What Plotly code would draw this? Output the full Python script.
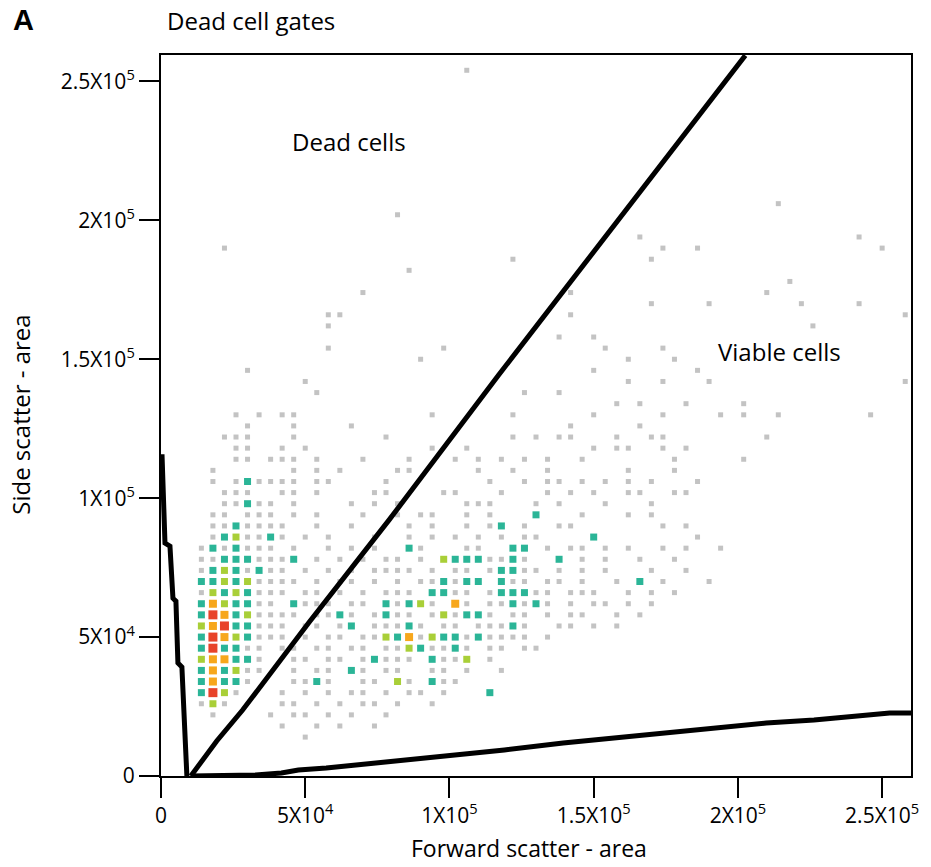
import plotly.graph_objects as go

# ---------------- data ----------------
BIN = 4000  # width of one density cell (scatter units)

# density grid: one row per 4000-unit band of side scatter,
# top row = highest band (row 64), columns = 4000-unit bands of forward scatter.
# '.' empty, g grey (low), t teal, l lime, o orange, r red (highest)
E = ".........."
E5 = "....."
GRID_ROWS = [
    E + E + E + E + E + E + E5,                                                   # 64
    E + E + "......g..." + E + E + E + E5,                                        # 63
    E + E + E + E + E + E + E5,                                                   # 62
    E + E + E + E + E + E + E5,                                                   # 61
    E + E + E + E + E + E + E5,                                                   # 60
    E + E + E + E + E + E + E5,                                                   # 59
    E + E + E + E + E + E + E5,                                                   # 58
    E + E + E + E + E + E + E5,                                                   # 57
    E + E + E + E + E + E + E5,                                                   # 56
    E + E + E + E + E + E + E5,                                                   # 55
    E + E + E + E + E + E + E5,                                                   # 54
    E + E + E + E + E + E + E5,                                                   # 53
    E + E + E + E + E + E + E5,                                                   # 52
    E + E + E + E + E + "...g......" + E5,                                        # 51
    E + E + "g........." + E + E + E + E5,                                        # 50
    E + E + E + E + E + E + E5,                                                   # 49
    E + E + E + E + ".g........" + E + "g....",                                   # 48
    ".....g...." + E + E + E + "...g..g..." + E + "..g..",                        # 47
    E + E + E + "g........." + "..g......." + E + E5,                             # 46
    E + E + ".g........" + E + E + E + E5,                                        # 45
    E + E + E + E + E + "....g....." + E5,                                        # 44
    E + ".......g.." + E + ".....g...." + E + "..g......." + E5,                  # 43
    E + E + E + E + "..g....g.." + ".....g...." + "g....",                        # 42
    E + "....gg...." + E + ".....g...." + E + E + "....g",                        # 41
    E + "....g....." + E + E + E + "......g..." + E5,                             # 40
    E + E + E + "....g..g.." + E + E + E5,                                        # 39
    E + "....g....." + "....g....." + "........g." + "...g......" + E + E5,       # 38
    E + E + "..g......." + E + "g...g....." + E + E5,                             # 37
    ".......g.." + E + E + ".......g.." + "......g..." + E + E5,                  # 36
    E + "..g......." + E + E + "g..g...g.." + E + "....g",                        # 35
    E + "...g......" + E + ".g..g....." + E + E + E5,                             # 34
    E + E + E + ".........g" + ".g...g...." + "g........." + E5,                  # 33
    "......g.g." + "gg........" + "...g......" + "g......g.." + "...g....g." + "g..g......" + ".g...",  # 32
    ".......g.." + ".g....g..." + E + ".....g...." + ".g........" + E + E5,       # 31
    ".....ggg.." + ".g.......g" + E + "g.g.gg...g" + "..gg......" + "..g......." + E5,  # 30
    "......gg.." + "g.g......." + "...g..g..." + ".......g.g" + "g..g.g...." + E + E5,  # 29
    "......gg.g" + "gg.g...g.." + ".g...g.g.g" + ".g.g..g..." + "....g....." + "g........." + E5,  # 28
    "....g....." + ".g.g.g...." + "gg.....g.." + "g..g......" + "g...g....." + E + E5,  # 27
    "....g.gtgg" + "gg.gg....g" + "........g." + ".g.gg.g.g." + "g.g...g..." + E + E5,  # 26
    ".....ggg.." + "gg.g....gg" + "....gg...g" + "...g.g.g.." + "gg..gg...." + E + E5,  # 25
    ".....ggtgg" + ".g....g.g." + "g.....ggg." + "..g.g...g." + "..g......." + E + E5,  # 24
    "....gg.ggg" + ".g.g...g.." + "g.gg..g.g." + "..t...g..." + "g.g......." + E + E5,  # 23
    "....ggtggg" + "g..g..g..." + ".g.g..g.gt" + ".g..gg...." + "...g.g...." + E + E5,  # 22
    "....gtlggt" + "g.g.g...g." + ".g.g.g.g.g" + ".gg....t.." + "......g..." + E + E5,  # 21
    "...gtgtggg" + ".g..g.g.g." + ".tg...gg.." + "tt.g.gg.g." + "g..g.g..g." + E + E5,  # 20
    "...ggtttgg" + "gt.g.g.g.g" + "g.g.ltttgg" + "tg..t.g.g." + ".g..g....." + E + E5,  # 19
    "...gtltgtg" + "g.g.g.g.gg" + "gg.g.gg.gt" + "tgg.g.g.g." + "..g..g...." + E + E5,  # 18
    "...ttltlgg" + "gg.g.gg.g." + "g.ggtgtt.t" + "gg.gg.g..g" + ".t.g...g.." + E + E5,  # 17
    "...gltltgg" + "g.gg.g.g.g" + "gg.ttgg.gt" + "ttgg.ggg.." + "g.g.g....." + E + E5,  # 16
    "...tolttgg" + ".tggg.gg.t" + "gtlg.og.gg" + "tgtg.g.gg." + "g.g......." + E + E5,  # 15
    "...trotlgg" + "gg.ggtg.gt" + "gg.glgttg." + "gg.g.gg..g" + ".g........" + E + E5,  # 14
    "...lorttgg" + "g.gg.gt.gg" + "gtg.gg.ggg" + "tg..gg.g.g" + E + E + E5,          # 13
    "...troltgg" + "g.g.gg.ggl" + "toglttgtgg" + "gg.g......" + E + E + E5,          # 12
    "...trttgg." + "gg.gg.gg.g" + "gltggtg.gg" + ".gg......." + E + E + E5,          # 11
    "...loottg." + ".gg.gg.gtg" + "gg.tggl.g." + E + E + E + E5,                     # 10
    "...totlgg." + ".g.gg.tg.g" + "g..gg.g..g" + E + E + E + E5,                     # 9
    "...tottg.." + ".ggtg..gg." + "lg.tgg...." + E + E + E + E5,                     # 8
    "...trlg..." + "g.g.g.gg.g" + ".gg.g...t." + E + E + E + E5,                     # 7
    "...glg...." + "gg.g.g.gg." + "g..g......" + E + E + E + E5,                     # 6
    "....g....g" + ".gg.g.g..g" + E + E + E + E + E5,                                # 5
    E + "g..g.g..g." + E + E + E + E + E5,                                           # 4
    E + "..g......." + E + E + E + E + E5,                                           # 3
    E + E + E + E + E + E + E5,                                                      # 2
    E + E + E + E + E + E + E5,                                                      # 1
    E + E + E + E + E + E + E5,                                                      # 0
]

LEVEL_ORDER = ["g", "t", "l", "o", "r"]

# gate polylines (forward scatter, side scatter)
GATE_LEFT_X = [345, 690, 1380, 3105, 4140, 5176, 5866, 7246, 7937, 8972]
GATE_LEFT_Y = [115800, 102900, 83800, 82700, 64000, 62950, 40650, 39200, 20140, 0]

GATE_DIAG_X = [10352, 19324, 28296, 51415, 79021, 116979, 202556]
GATE_DIAG_Y = [0, 12590, 23740, 55390, 92083, 144240, 259344]

GATE_LOW_X = [10352, 22085, 32782, 41753, 47620, 57282, 77986, 103176, 119049,
              139408, 154246, 175640, 190134, 209803, 226366, 246035, 252591, 260528]
GATE_LOW_Y = [0, 0, 360, 1080, 2158, 2878, 5036, 7554, 9352,
              11870, 13309, 15467, 16906, 19064, 20143, 21942, 22661, 22661]

TICK_VALS = [0, 50000, 100000, 150000, 200000, 250000]
TICK_TEXT = ["0", "5X10<sup>4</sup>", "1X10<sup>5</sup>", "1.5X10<sup>5</sup>",
             "2X10<sup>5</sup>", "2.5X10<sup>5</sup>"]

# ---------------- styles ----------------
COLORS = {"g": "#c3c3c3", "t": "#2bb597", "l": "#a9cf38", "o": "#f7a71c", "r": "#e8432a"}
SIZES = {"g": 5, "t": 7, "l": 7, "o": 8, "r": 9}
FONT = "Open Sans"

fig = go.Figure()

n_rows = len(GRID_ROWS)
for lvl in LEVEL_ORDER:
    xs, ys = [], []
    for i, row in enumerate(GRID_ROWS):
        r = n_rows - 1 - i
        for c, ch in enumerate(row):
            if ch == lvl:
                xs.append((c + 0.5) * BIN)
                ys.append((r + 0.5) * BIN)
    fig.add_trace(go.Scatter(
        x=xs, y=ys, mode="markers", hoverinfo="skip", showlegend=False,
        marker=dict(symbol="square", size=SIZES[lvl], color=COLORS[lvl],
                    line=dict(width=0)),
    ))

for gx, gy in [(GATE_LEFT_X, GATE_LEFT_Y), (GATE_DIAG_X, GATE_DIAG_Y), (GATE_LOW_X, GATE_LOW_Y)]:
    fig.add_trace(go.Scatter(x=gx, y=gy, mode="lines", hoverinfo="skip", showlegend=False,
                             line=dict(color="black", width=5)))

axis_common = dict(
    showline=True, linecolor="black", linewidth=2, mirror=True,
    ticks="outside", ticklen=20, tickwidth=2, tickcolor="black",
    tickvals=TICK_VALS, ticktext=TICK_TEXT,
    showgrid=False, zeroline=False,
    tickfont=dict(family=FONT, size=21, color="black"),
)
fig.update_xaxes(range=[0, 260000], **axis_common)
fig.update_yaxes(range=[0, 259500], **axis_common)

fig.update_layout(
    width=931, height=867,
    margin=dict(l=161, r=16, t=55, b=91),
    paper_bgcolor="white", plot_bgcolor="white",
    font=dict(family=FONT, color="black"),
    annotations=[
        dict(text="<b>A</b>", xref="paper", yref="paper", x=-0.2003, y=1.0485,
             xanchor="left", yanchor="middle", showarrow=False,
             font=dict(family="Liberation Sans", size=29, color="black")),
        dict(text="Dead cell gates", xref="paper", yref="paper", x=0.0053, y=1.0472,
             xanchor="left", yanchor="middle", showarrow=False,
             font=dict(family=FONT, size=24, color="black")),
        dict(text="Dead cells", xref="x", yref="y", x=44850, y=228400,
             xanchor="left", yanchor="middle", showarrow=False,
             font=dict(family=FONT, size=24, color="black")),
        dict(text="Viable cells", xref="x", yref="y", x=192500, y=152900,
             xanchor="left", yanchor="middle", showarrow=False,
             font=dict(family=FONT, size=24, color="black")),
        dict(text="Forward scatter - area", xref="paper", yref="paper", x=0.4907, y=-0.0999,
             xanchor="center", yanchor="middle", showarrow=False,
             font=dict(family=FONT, size=23, color="black")),
        dict(text="Side scatter - area", xref="paper", yref="paper", x=-0.187, y=0.5007,
             xanchor="center", yanchor="middle", showarrow=False, textangle=-90,
             font=dict(family=FONT, size=24, color="black")),
    ],
)

# remove the default 8 px page margin so the figure fills the window exactly
fig.write_html("out.html", config={"displayModeBar": False},
               post_script="document.body.style.margin='0px';")
